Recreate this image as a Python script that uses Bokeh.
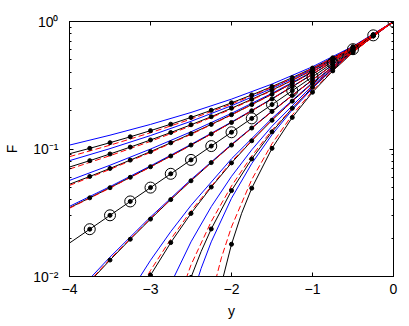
from bokeh.plotting import figure
from bokeh.models import FixedTicker, LinearAxis, LogAxis
from bokeh.embed import file_html
from bokeh.resources import INLINE

# ---------------- data ----------------
y_q = [-4.0, -3.75, -3.5, -3.25, -3.0, -2.75, -2.5, -2.25, -2.0,
       -1.75, -1.5, -1.25, -1.0, -0.75, -0.5, -0.25, 0.0]
y_h = [-4.0, -3.5, -3.0, -2.5, -2.0, -1.5, -1.0, -0.5, 0.0]

# black curves (dots at every 0.25)
blk_p04 = [0.0918, 0.1012, 0.1121, 0.1246, 0.1393, 0.1565, 0.1768, 0.2010, 0.2301,
           0.2654, 0.3088, 0.3630, 0.4312, 0.5190, 0.6339, 0.7880, 1.0]
blk_p03 = [0.0722, 0.0810, 0.0914, 0.1035, 0.1177, 0.1346, 0.1549, 0.1792, 0.2089,
           0.2455, 0.2898, 0.3459, 0.4169, 0.5084, 0.6277, 0.7857, 1.0]
blk_p02 = [0.0529, 0.0609, 0.0704, 0.0818, 0.0954, 0.1118, 0.1317, 0.1560, 0.1859,
           0.2230, 0.2693, 0.3277, 0.4019, 0.4972, 0.6209, 0.7834, 1.0]
blk_p01 = [0.0346, 0.0414, 0.0497, 0.0600, 0.0726, 0.0881, 0.1074, 0.1314, 0.1615,
           0.1993, 0.2472, 0.3079, 0.3856, 0.4852, 0.6140, 0.7812, 1.0]
blk_0 = [0.0183, 0.0235, 0.0302, 0.0388, 0.0498, 0.0639, 0.0821, 0.1054, 0.1353,
         0.1738, 0.2231, 0.2865, 0.3679, 0.4724, 0.6065, 0.7788, 1.0]
blk_m01 = [0.00605, 0.0091, 0.01346, 0.0196, 0.0282, 0.0401, 0.0563, 0.0782, 0.1074,
           0.1460, 0.1968, 0.2630, 0.3486, 0.4586, 0.5988, 0.7762, 1.0]
blk_m02_x = [-3.5, -3.25, -3.0, -2.75, -2.5, -2.25, -2.0, -1.75, -1.5, -1.25, -1.0, -0.75, -0.5, -0.25, 0.0]
blk_m02 = [0.00243, 0.00525, 0.01024, 0.01845, 0.03125, 0.0503, 0.0778, 0.1160, 0.1681,
           0.2373, 0.3276, 0.4437, 0.5906, 0.7737, 1.0]
blk_m03_x = [-2.75, -2.5, -2.375, -2.25, -2.0, -1.75, -1.5, -1.25, -1.0, -0.75, -0.5, -0.25, 0.0]
blk_m03 = [0.0030, 0.00984, 0.0157, 0.0236, 0.0472, 0.0836, 0.1363, 0.2088, 0.3045,
           0.4276, 0.5818, 0.7710, 1.0]
blk_m04_x = [-2.25, -2.125, -2.0, -1.875, -1.75, -1.5, -1.25, -1.0, -0.75, -0.5, -0.25, 0.0]
blk_m04 = [0.00316, 0.00871, 0.0179, 0.0313, 0.0493, 0.1012, 0.1768, 0.2788, 0.4099,
           0.5725, 0.7684, 1.0]

# blue (solid) curves
blu_p04 = [0.1073, 0.1283, 0.1559, 0.1934, 0.2461, 0.3231, 0.4419, 0.6389, 1.0]
blu_p03 = [0.0810, 0.1007, 0.1275, 0.1649, 0.2185, 0.2985, 0.4236, 0.6305, 1.0]
blu_p02 = [0.0567, 0.0746, 0.0999, 0.1364, 0.1905, 0.2735, 0.4050, 0.6223, 1.0]
blu_p01 = [0.0355, 0.0507, 0.0737, 0.1086, 0.1627, 0.2483, 0.3864, 0.6143, 1.0]
blu_m01 = [0.00653, 0.0142, 0.0293, 0.0576, 0.1088, 0.1982, 0.3497, 0.5991, 1.0]
blu_m02_x = [-3.5, -3.25, -3.0, -2.75, -2.5, -2.0, -1.5, -1.0, -0.5, 0.0]
blu_m02 = [0.00399, 0.00755, 0.0134, 0.0225, 0.0361, 0.0838, 0.1741, 0.3320, 0.5922, 1.0]
blu_m03_x = [-3.0, -2.75, -2.5, -2.25, -2.0, -1.75, -1.5, -1.0, -0.75, -0.5, 0.0]
blu_m03 = [0.00342, 0.00876, 0.0187, 0.0353, 0.0610, 0.0985, 0.1510, 0.3153, 0.4350, 0.5856, 1.0]
blu_m04_x = [-2.5, -2.375, -2.25, -2.0, -1.75, -1.5, -1.25, -1.0, -0.75, -0.5, 0.0]
blu_m04 = [0.00654, 0.01157, 0.0187, 0.0411, 0.0769, 0.1296, 0.2026, 0.2995, 0.4241, 0.5798, 1.0]

# red (dashed) curves
red_p04 = [0.0871, 0.1071, 0.1342, 0.1716, 0.2251, 0.3044, 0.4279, 0.6324, 1.0]
red_p03 = [0.0696, 0.0886, 0.1148, 0.1517, 0.2058, 0.2871, 0.4151, 0.6268, 1.0]
red_p02 = [0.0518, 0.0692, 0.0940, 0.1302, 0.1845, 0.2681, 0.4010, 0.6205, 1.0]
red_p01 = [0.0343, 0.0494, 0.0722, 0.1070, 0.1611, 0.2469, 0.3853, 0.6138, 1.0]
red_m01 = [0.00619, 0.0137, 0.0286, 0.0567, 0.1078, 0.1973, 0.3489, 0.5988, 1.0]
red_m02_x = [-3.25, -3.0, -2.75, -2.5, -2.0, -1.5, -1.0, -0.5, 0.0]
red_m02 = [0.0059, 0.01115, 0.0196, 0.0327, 0.0796, 0.1699, 0.3290, 0.5911, 1.0]
red_m03_x = [-2.75, -2.5, -2.25, -2.0, -1.75, -1.5, -1.0, -0.75, -0.5, 0.0]
red_m03 = [0.00446, 0.01232, 0.0270, 0.0513, 0.0881, 0.1408, 0.3078, 0.4298, 0.5828, 1.0]
red_m04_x = [-2.25, -2.125, -2.0, -1.75, -1.5, -1.25, -1.0, -0.75, -0.5, 0.0]
red_m04 = [0.0069, 0.0140, 0.0245, 0.0576, 0.1100, 0.1848, 0.2852, 0.4144, 0.5746, 1.0]

x_ticks = [-4, -3, -2, -1, 0]
x_tick_labels = ["\u22124", "\u22123", "\u22122", "\u22121", "0"]
y_ticks = [0.01, 0.1, 1]
y_tick_labels = ["10\u207b\u00b2", "10\u207b\u00b9", "10\u2070"]
y_minor = [0.02, 0.03, 0.04, 0.05, 0.06, 0.07, 0.08, 0.09,
           0.2, 0.3, 0.4, 0.5, 0.6, 0.7, 0.8, 0.9]

black_curves = [(y_q, blk_p04), (y_q, blk_p03), (y_q, blk_p02), (y_q, blk_p01), (y_q, blk_0),
                (y_q, blk_m01), (blk_m02_x, blk_m02), (blk_m03_x, blk_m03), (blk_m04_x, blk_m04)]
blue_curves = [(y_h, blu_p04), (y_h, blu_p03), (y_h, blu_p02), (y_h, blu_p01), (y_h, blu_m01),
               (blu_m02_x, blu_m02), (blu_m03_x, blu_m03), (blu_m04_x, blu_m04)]
red_curves = [(y_h, red_p04), (y_h, red_p03), (y_h, red_p02), (y_h, red_p01), (y_h, red_m01),
              (red_m02_x, red_m02), (red_m03_x, red_m03), (red_m04_x, red_m04)]

# ---------------- figure ----------------
FONT = "Liberation Sans"
p = figure(width=409, height=326, x_range=(-4, 0), y_range=(0.01, 1), y_axis_type="log",
           output_backend="svg", toolbar_location=None,
           min_border_left=69, min_border_right=16, min_border_top=21, min_border_bottom=50)
p.grid.visible = False
p.outline_line_color = "black"
p.outline_line_width = 1
p.background_fill_color = "white"
p.border_fill_color = "white"

xt = FixedTicker(ticks=x_ticks)
yt = FixedTicker(ticks=y_ticks, minor_ticks=y_minor)

def style(ax):
    ax.axis_line_color = "black"
    ax.major_tick_in = 4
    ax.major_tick_out = 0
    ax.minor_tick_in = 2
    ax.minor_tick_out = 0
    ax.major_tick_line_color = "black"
    ax.minor_tick_line_color = "black"
    ax.major_label_text_font = FONT
    ax.major_label_text_font_size = "14px"
    ax.major_label_text_color = "black"
    ax.axis_label_text_font = FONT
    ax.axis_label_text_font_size = "14px"
    ax.axis_label_text_font_style = "normal"
    ax.axis_label_text_color = "black"

xa = p.xaxis[0]
xa.ticker = xt
style(xa)
xa.minor_tick_line_color = None
xa.major_label_overrides = {t: s for t, s in zip(x_ticks, x_tick_labels)}
xa.major_label_standoff = 7
xa.axis_label = "y"
xa.axis_label_standoff = 6

ya = p.yaxis[0]
ya.ticker = yt
style(ya)
ya.major_label_overrides = {t: s for t, s in zip(y_ticks, y_tick_labels)}
ya.major_label_standoff = 11
ya.axis_label = "F"
ya.axis_label_standoff = 10

# box: top and right axes with inward ticks, no labels
top = LinearAxis(ticker=xt)
style(top)
top.minor_tick_line_color = None
top.major_label_text_font_size = "1px"
top.major_label_text_color = None
top.major_label_standoff = 0
p.add_layout(top, "above")
right = LogAxis(ticker=yt)
style(right)
right.major_label_text_font_size = "1px"
right.major_label_text_color = None
right.major_label_standoff = 0
p.add_layout(right, "right")

# ---------------- curves ----------------
for xs, fs in blue_curves:
    p.line(xs, fs, line_color="#0000ff", line_width=1)
for xs, fs in black_curves:
    p.line(xs, fs, line_color="black", line_width=1)
for xs, fs in red_curves:
    p.line(xs, fs, line_color="#ff0000", line_width=1, line_dash="6 3")

for xs, fs in black_curves:
    keep = [abs(x * 4 - round(x * 4)) < 1e-9 and x > -3.9 for x in xs]
    mx = [x for x, k in zip(xs, keep) if k]
    mf = [f for f, k in zip(fs, keep) if k]
    p.scatter(mx, mf, marker="circle", size=4, fill_color="black", line_color="black")

cx = [x for x in y_q if x > -3.9]
cf = [f for x, f in zip(y_q, blk_0) if x > -3.9]
p.scatter(cx, cf, marker="circle", size=11, fill_color=None, line_color="black", line_width=1)

open("out.html", "w").write(file_html(p, INLINE))
